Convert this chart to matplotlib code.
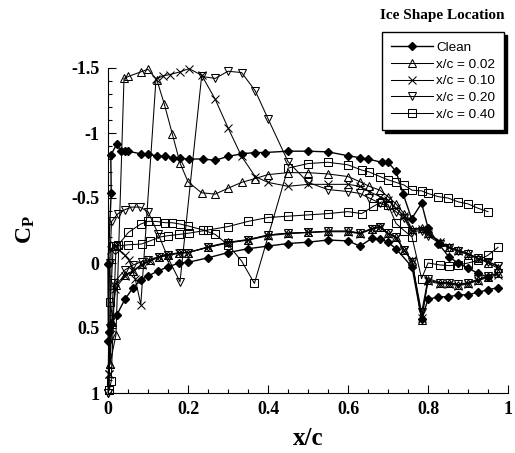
import matplotlib
matplotlib.use("Agg")
import matplotlib.pyplot as plt
from matplotlib.ticker import MultipleLocator

plt.rcParams['mathtext.fontset'] = 'custom'
plt.rcParams['mathtext.rm'] = 'Liberation Serif'
plt.rcParams['mathtext.bf'] = 'Liberation Serif:bold'

# Cp, upper and lower surface, leading edge -> trailing edge
clean_up_x = [0.0, 0.008, 0.007, 0.022, 0.032, 0.042, 0.05, 0.082, 0.10, 0.122, 0.142, 0.162, 0.18,
              0.203, 0.237, 0.268, 0.30, 0.335, 0.368, 0.393, 0.449, 0.50, 0.55, 0.60, 0.63, 0.65,
              0.684, 0.70, 0.72, 0.738, 0.759, 0.784, 0.80, 0.826, 0.853, 0.876, 0.90, 0.926, 0.95]
clean_up_cp = [0.01, -0.54, -0.83, -0.915, -0.86, -0.86, -0.86, -0.84, -0.835, -0.825, -0.82, -0.81, -0.805,
               -0.80, -0.80, -0.79, -0.82, -0.84, -0.85, -0.85, -0.86, -0.86, -0.855, -0.825, -0.81, -0.80,
               -0.775, -0.775, -0.705, -0.53, -0.34, -0.46, -0.27, -0.15, -0.044, 0.0, 0.04, 0.08, 0.11]
clean_lo_x = [0.001, 0.003, 0.008, 0.022, 0.042, 0.063, 0.082, 0.10, 0.126, 0.15, 0.178, 0.20, 0.25,
              0.30, 0.35, 0.40, 0.45, 0.50, 0.55, 0.60, 0.63, 0.66, 0.68, 0.70, 0.72, 0.76, 0.784,
              0.80, 0.826, 0.85, 0.876, 0.90, 0.926, 0.95, 0.975]
clean_lo_cp = [0.60, 0.53, 0.47, 0.40, 0.28, 0.19, 0.13, 0.10, 0.06, 0.03, 0.0, -0.005, -0.04,
               -0.08, -0.11, -0.13, -0.15, -0.16, -0.177, -0.17, -0.13, -0.19, -0.185, -0.16, -0.11, 0.03, 0.43,
               0.28, 0.26, 0.26, 0.246, 0.244, 0.225, 0.205, 0.19]

ice02_up_x = [0.005, 0.02, 0.04, 0.051, 0.082, 0.10, 0.122, 0.141, 0.161, 0.18, 0.20, 0.234, 0.268,
              0.30, 0.334, 0.368, 0.40, 0.45, 0.50, 0.55, 0.60, 0.63, 0.653, 0.68, 0.70, 0.72, 0.74,
              0.76, 0.784, 0.80, 0.83, 0.853, 0.876, 0.90, 0.926, 0.95, 0.975]
ice02_up_cp = [0.78, 0.55, -1.42, -1.435, -1.47, -1.49, -1.41, -1.22, -0.99, -0.77, -0.625, -0.54, -0.53,
               -0.575, -0.62, -0.65, -0.68, -0.695, -0.695, -0.685, -0.665, -0.625, -0.59, -0.56, -0.51, -0.455, -0.38,
               -0.26, -0.27, -0.23, -0.165, -0.12, -0.1, -0.075, -0.035, 0.0, 0.04]
ice02_lo_x = [0.005, 0.01, 0.02, 0.042, 0.063, 0.084, 0.105, 0.128, 0.15, 0.178, 0.20, 0.25, 0.30,
              0.35, 0.40, 0.45, 0.50, 0.55, 0.60, 0.63, 0.66, 0.68, 0.70, 0.72, 0.74, 0.76, 0.784,
              0.80, 0.83, 0.853, 0.876, 0.90, 0.926, 0.95, 0.975]
ice02_lo_cp = [0.78, 0.45, 0.17, 0.09, 0.06, 0.01, -0.02, -0.05, -0.065, -0.08, -0.08, -0.125, -0.16,
               -0.18, -0.215, -0.23, -0.235, -0.245, -0.245, -0.23, -0.265, -0.28, -0.23, -0.2, -0.1, -0.015, 0.44,
               0.13, 0.155, 0.155, 0.17, 0.155, 0.13, 0.105, 0.08]

ice10_up_x = [0.003, 0.008, 0.015, 0.028, 0.042, 0.053, 0.068, 0.082, 0.12, 0.138, 0.155, 0.18, 0.2025,
              0.234, 0.268, 0.30, 0.334, 0.368, 0.40, 0.45, 0.50, 0.55, 0.60, 0.63, 0.653, 0.68, 0.70,
              0.72, 0.74, 0.76, 0.784, 0.80, 0.83, 0.853, 0.876, 0.90, 0.926, 0.95, 0.975]
ice10_up_cp = [0.85, -0.1, -0.14, -0.1, -0.06, -0.02, 0.12, 0.32, -1.415, -1.44, -1.45, -1.47, -1.495,
               -1.445, -1.26, -1.04, -0.82, -0.665, -0.62, -0.59, -0.605, -0.605, -0.605, -0.59, -0.55, -0.51, -0.485,
               -0.42, -0.36, -0.25, -0.26, -0.22, -0.16, -0.12, -0.09, -0.065, -0.03, -0.01, 0.03]
ice10_lo_x = [0.003, 0.008, 0.018, 0.042, 0.063, 0.084, 0.105, 0.128, 0.15, 0.178, 0.20, 0.25, 0.30,
              0.35, 0.40, 0.45, 0.50, 0.55, 0.60, 0.63, 0.66, 0.68, 0.70, 0.72, 0.74, 0.76, 0.784,
              0.80, 0.83, 0.853, 0.876, 0.90, 0.926, 0.95, 0.975]
ice10_lo_cp = [0.85, 0.5, 0.2, 0.1, 0.065, 0.015, -0.015, -0.045, -0.06, -0.075, -0.08, -0.12, -0.155,
               -0.175, -0.21, -0.225, -0.235, -0.24, -0.24, -0.225, -0.26, -0.275, -0.225, -0.195, -0.1, -0.02, 0.42,
               0.14, 0.16, 0.16, 0.175, 0.16, 0.135, 0.11, 0.09]

ice20_up_x = [0.0, 0.004, 0.009, 0.025, 0.042, 0.059, 0.08, 0.10, 0.126, 0.15, 0.18, 0.234, 0.268,
              0.30, 0.334, 0.368, 0.40, 0.45, 0.50, 0.55, 0.60, 0.63, 0.653, 0.68, 0.70, 0.72, 0.74,
              0.76, 0.784, 0.80, 0.83, 0.853, 0.876, 0.90, 0.926, 0.95, 0.975]
ice20_up_cp = [1.0, 0.0, -0.32, -0.38, -0.41, -0.43, -0.43, -0.395, -0.22, -0.04, 0.145, -1.435, -1.42,
               -1.475, -1.465, -1.325, -1.11, -0.78, -0.62, -0.565, -0.55, -0.535, -0.50, -0.46, -0.435, -0.395, -0.345,
               -0.24, -0.25, -0.21, -0.15, -0.115, -0.09, -0.07, -0.035, -0.01, 0.02]
ice20_lo_x = [0.0, 0.005, 0.015, 0.042, 0.063, 0.084, 0.10, 0.128, 0.15, 0.18, 0.20, 0.25, 0.30,
              0.35, 0.40, 0.45, 0.50, 0.55, 0.60, 0.63, 0.66, 0.68, 0.70, 0.72, 0.74, 0.76, 0.784,
              0.80, 0.83, 0.853, 0.876, 0.90, 0.926, 0.95, 0.975]
ice20_lo_cp = [1.0, 0.5, 0.15, 0.054, 0.015, -0.01, -0.023, -0.045, -0.06, -0.08, -0.08, -0.12, -0.156,
               -0.18, -0.215, -0.23, -0.235, -0.245, -0.245, -0.23, -0.265, -0.28, -0.23, -0.2, -0.1, -0.01, 0.38,
               0.12, 0.15, 0.15, 0.165, 0.15, 0.125, 0.1, 0.075]

ice40_up_x = [0.003, 0.006, 0.013, 0.026, 0.051, 0.082, 0.10, 0.12, 0.143, 0.16, 0.18, 0.20, 0.237,
              0.268, 0.30, 0.334, 0.366, 0.45, 0.50, 0.55, 0.60, 0.634, 0.653, 0.68, 0.70, 0.72, 0.74,
              0.76, 0.784, 0.80, 0.826, 0.85, 0.876, 0.90, 0.926, 0.95]
ice40_up_cp = [0.98, 0.3, -0.13, -0.14, -0.235, -0.30, -0.32, -0.32, -0.31, -0.31, -0.30, -0.285, -0.255,
               -0.22, -0.14, -0.015, 0.157, -0.73, -0.765, -0.775, -0.755, -0.715, -0.70, -0.665, -0.64, -0.62, -0.60,
               -0.56, -0.555, -0.535, -0.51, -0.50, -0.47, -0.455, -0.42, -0.395]
ice40_lo_x = [0.003, 0.008, 0.02, 0.05, 0.084, 0.105, 0.13, 0.15, 0.178, 0.203, 0.25, 0.30, 0.35,
              0.40, 0.45, 0.50, 0.55, 0.60, 0.634, 0.663, 0.684, 0.70, 0.72, 0.74, 0.76, 0.784, 0.80,
              0.83, 0.853, 0.876, 0.90, 0.926, 0.95, 0.975]
ice40_lo_cp = [0.98, 0.91, -0.13, -0.14, -0.146, -0.17, -0.2, -0.21, -0.22, -0.23, -0.254, -0.28, -0.32,
               -0.35, -0.36, -0.37, -0.38, -0.395, -0.38, -0.435, -0.47, -0.45, -0.305, -0.25, -0.2, 0.12, 0.0,
               0.015, 0.02, 0.015, 0.0, -0.02, -0.06, -0.12]

labels = ['Clean', 'x/c = 0.02', 'x/c = 0.10', 'x/c = 0.20', 'x/c = 0.40']
series = [(clean_up_x, clean_up_cp, clean_lo_x, clean_lo_cp),
          (ice02_up_x, ice02_up_cp, ice02_lo_x, ice02_lo_cp),
          (ice10_up_x, ice10_up_cp, ice10_lo_x, ice10_lo_cp),
          (ice20_up_x, ice20_up_cp, ice20_lo_x, ice20_lo_cp),
          (ice40_up_x, ice40_up_cp, ice40_lo_x, ice40_lo_cp)]
markers = ['D', '^', 'x', 'v', 's']

fig = plt.figure(figsize=(5.15, 4.53), dpi=100)
ax = fig.add_axes([108 / 515, 1 - 393 / 453, 400 / 515, 325 / 453])

for (ux, ucp, lx, lcp), m, lab in zip(series, markers, labels):
    # one line round the airfoil: upper TE -> LE -> lower TE
    x = ux[::-1] + lx
    cp = ucp[::-1] + lcp
    if m == 'D':
        ax.plot(x, cp, color='k', lw=1.0, marker=m, ms=4, mfc='k', mec='k', label=lab, clip_on=False)
    else:
        ax.plot(x, cp, color='k', lw=0.75, marker=m, ms=5.5, mfc='none', mec='k', mew=0.75,
                label=lab, clip_on=False)

ax.set_xlim(0, 1)
ax.set_ylim(1, -1.5)
ax.spines['top'].set_visible(False)
ax.spines['right'].set_visible(False)
ax.xaxis.set_major_locator(MultipleLocator(0.2))
ax.xaxis.set_minor_locator(MultipleLocator(0.05))
ax.yaxis.set_major_locator(MultipleLocator(0.5))
ax.yaxis.set_minor_locator(MultipleLocator(0.1))
ax.tick_params(which='both', direction='in', width=0.8)
ax.tick_params(which='major', length=6, pad=6)
ax.tick_params(which='minor', length=3)
ax.set_xticks([0, 0.2, 0.4, 0.6, 0.8, 1.0])
ax.set_xticklabels(['0', '0.2', '0.4', '0.6', '0.8', '1'])
ax.set_yticks([-1.5, -1, -0.5, 0, 0.5, 1])
ax.set_yticklabels(['-1.5', '-1', '-0.5', '0', '0.5', '1'])
for t in ax.get_xticklabels() + ax.get_yticklabels():
    t.set_fontfamily('Liberation Serif')
    t.set_fontweight('bold')
    t.set_fontsize(13)

ax.set_xlabel('x/c', fontfamily='Liberation Serif', fontweight='bold', fontsize=18, labelpad=6)
fig.text(25 / 515, 1 - 230 / 453, r'$\mathbf{C_P}$', rotation=90, fontsize=17,
         ha='center', va='center')

leg = fig.legend(loc='upper left', bbox_to_anchor=(382 / 515, 1 - 32 / 453), frameon=True,
                 fancybox=False, shadow={'color': 'k', 'alpha': 1}, edgecolor='k',
                 prop={'family': 'Liberation Sans', 'size': 9.7}, handlelength=3.1,
                 labelspacing=0.32, borderpad=0.7, handletextpad=0.2, borderaxespad=0)
leg.get_frame().set_linewidth(1.0)
fig.text(442 / 515, 1 - 15 / 453, 'Ice Shape Location', fontfamily='Liberation Serif',
         fontweight='bold', fontsize=11, ha='center', va='center')

fig.savefig('out.png', dpi=100)
plt.close(fig)
